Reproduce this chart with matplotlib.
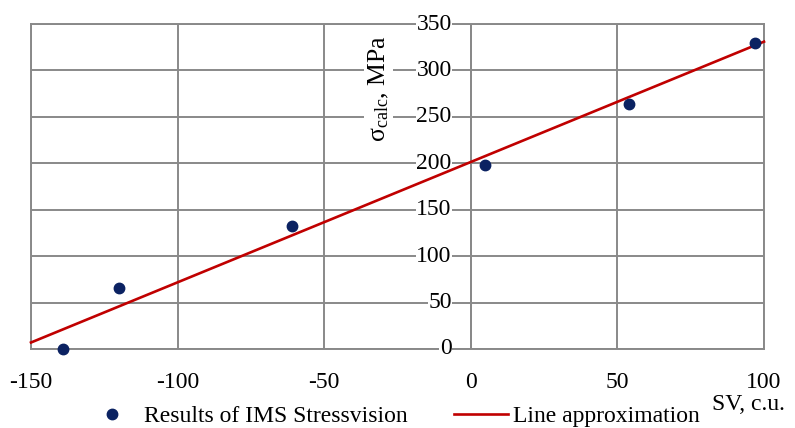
import matplotlib.pyplot as plt
from matplotlib.lines import Line2D

plt.rcParams['font.family'] = ['Liberation Serif', 'DejaVu Serif']
plt.rcParams['mathtext.fontset'] = 'custom'
plt.rcParams['mathtext.rm'] = 'Liberation Serif'
plt.rcParams['mathtext.it'] = 'Liberation Serif:italic'
plt.rcParams['axes.unicode_minus'] = False

# measured points (SV vs calculated stress)
sv_values = [-139, -120, -61, 5, 54, 97]
stress_values = [0, 66, 132, 198, 264, 330]

# linear approximation end points
line_sv = [-150, 100]
line_stress = [7, 331]

x_ticks = [-150, -100, -50, 0, 50, 100]
y_ticks = [0, 50, 100, 150, 200, 250, 300, 350]

grid_color = '#898989'
point_color = '#0b2262'
line_color = '#c00000'

fig = plt.figure(figsize=(7.95, 4.28), dpi=100)
ax = fig.add_axes([31 / 795, 1 - 349 / 428, 733 / 795, 325 / 428])

ax.set_xlim(-150, 100)
ax.set_ylim(0, 350)
ax.set_xticks(x_ticks)
ax.set_yticks(y_ticks)
ax.grid(True, color=grid_color, lw=1.4)
ax.set_axisbelow(True)
for s in ax.spines.values():
    s.set_color(grid_color)
    s.set_linewidth(1.4)

# y axis sits at SV = 0
ax.axvline(0, color=grid_color, lw=1.4, zorder=1)
ax.tick_params(axis='y', left=False, labelleft=False)
ax.tick_params(axis='x', bottom=False, labelsize=17, pad=13)

for yv in y_ticks:
    ax.text(-6.5, yv, str(yv), ha='right', va='center', fontsize=17,
            bbox=dict(facecolor='white', edgecolor='none', pad=0.5), zorder=3)

ax.plot(line_sv, line_stress, color=line_color, lw=1.9, zorder=4, clip_on=False)
ax.plot(sv_values, stress_values, 'o', color=point_color, ms=7.5, zorder=5, clip_on=False)

# axis title with a white gap behind it
ax.text(-31.5, 280, r'σ$_{\mathrm{calc}}$, MPa', rotation=90, ha='center', va='center',
        fontsize=18.5, bbox=dict(facecolor='white', edgecolor='none', pad=2), zorder=3)

fig.text(748 / 795, 1 - 404 / 428, 'SV, c.u.', ha='center', va='center', fontsize=17)

handles = [
    Line2D([], [], marker='o', ls='none', color=point_color, ms=7.5),
    Line2D([], [], color=line_color, lw=1.9),
]
fig.legend(handles, ['Results of IMS Stressvision', 'Line approximation'],
           loc='center left', bbox_to_anchor=(85 / 795, 1 - 416 / 428), ncol=2,
           frameon=False, fontsize=17, handlelength=2.3, handletextpad=0.21,
           columnspacing=1.95, borderpad=0, borderaxespad=0)

fig.savefig('out.png', dpi=100)
